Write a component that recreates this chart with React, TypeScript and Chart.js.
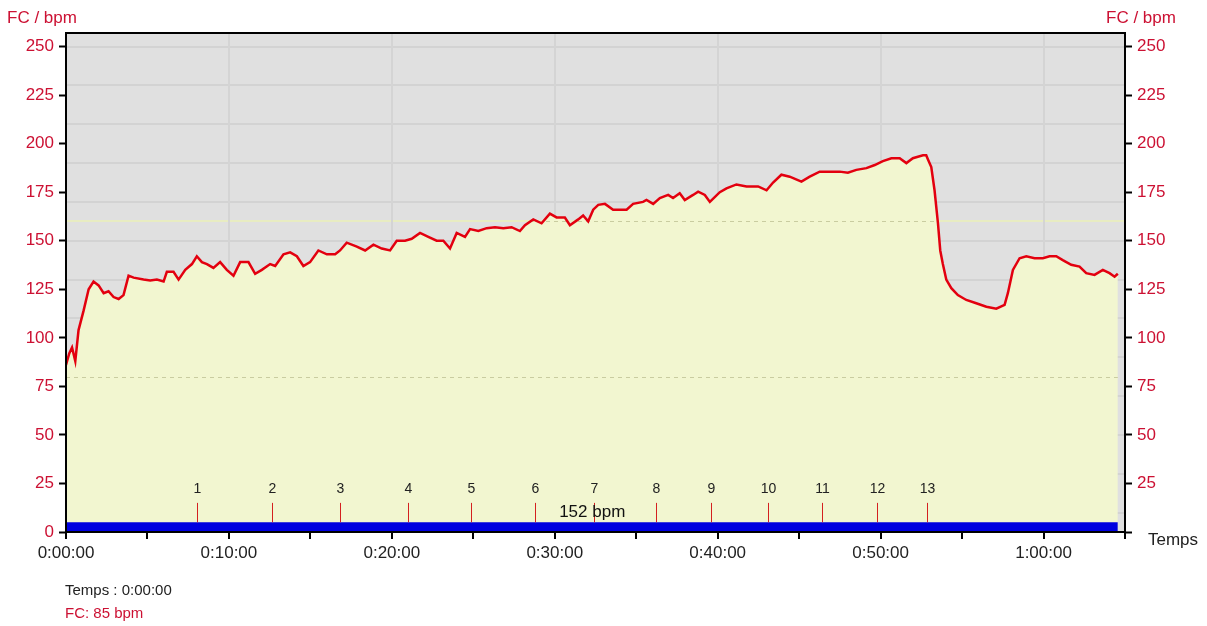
import React, { useEffect, useRef } from 'react';
import { Chart, registerables } from 'chart.js';

Chart.register(...registerables);

// ---- data (minutes, bpm) ----
const timeMin = [
  0, 0.2, 0.37, 0.57, 0.77, 1.08, 1.39, 1.69, 2.0, 2.31, 2.61, 2.92, 3.23, 3.53, 3.84, 4.15, 4.76, 5.17,
  5.58, 5.99, 6.19, 6.6, 6.91, 7.32, 7.73, 8.03, 8.34, 8.65, 9.05, 9.46, 9.87, 10.28, 10.69, 11.2, 11.61,
  12.02, 12.53, 12.84, 13.35, 13.76, 14.17, 14.57, 14.98, 15.49, 16.01, 16.52, 16.82, 17.23, 17.85, 18.36,
  18.87, 19.38, 19.89, 20.3, 20.81, 21.22, 21.73, 22.24, 22.75, 23.16, 23.57, 23.98, 24.49, 24.8, 25.31,
  25.82, 26.33, 26.84, 27.35, 27.86, 28.17, 28.68, 29.19, 29.7, 30.11, 30.62, 30.93, 31.44, 31.74, 32.05,
  32.36, 32.67, 33.08, 33.58, 34.41, 34.81, 35.42, 35.63, 36.04, 36.45, 36.96, 37.26, 37.67, 37.98, 38.49,
  38.8, 39.21, 39.52, 40.13, 40.54, 41.15, 41.77, 42.48, 43.0, 43.4, 43.91, 44.42, 45.14, 45.65, 46.26,
  46.87, 47.49, 47.99, 48.51, 49.13, 49.64, 50.14, 50.66, 51.17, 51.58, 51.98, 52.6, 52.8, 52.9, 53.11,
  53.31, 53.52, 53.66, 53.82, 54.03, 54.34, 54.74, 55.26, 55.87, 56.49, 57.1, 57.61, 57.81, 58.12, 58.53,
  58.94, 59.45, 59.96, 60.37, 60.78, 61.18, 61.7, 62.21, 62.62, 63.13, 63.64, 64.05, 64.36, 64.56,
];
const heartRate = [
  86, 92, 95, 88, 104, 114, 125, 129, 127, 123, 124, 121, 120, 122, 132, 131, 130, 129.5,
  130, 129, 134, 134, 130, 135, 138, 142, 139, 138, 136, 139, 135, 132, 139, 139, 133,
  135, 138, 137, 143, 144, 142, 137, 139, 145, 143, 143, 145, 149, 147, 145,
  148, 146, 145, 150, 150, 151, 154, 152, 150, 150, 146, 154, 152, 156, 155,
  156.5, 157, 156.5, 157, 155, 158, 161, 159, 164, 162, 162, 158, 161, 163, 160,
  166, 168.5, 169, 166, 166, 169, 170, 171, 169, 172, 173.6, 172, 174.5, 171, 173.6,
  175.3, 173.6, 170, 175, 177, 179, 178, 178, 176, 180, 184, 183, 180.5, 183, 185.6,
  185.6, 185.6, 185, 186.5, 187.4, 189, 191, 192.5, 192.5, 190, 192.5, 194, 194, 192, 188,
  176, 159, 145, 138, 130, 125.6, 122, 119.5, 117.8, 116, 115, 117, 123, 135, 141,
  142, 141, 141, 142, 142, 140, 137.6, 136.7, 133.3, 132.4, 135, 133.3, 131.5, 133,
];
const lapTimes = [8.05, 12.65, 16.82, 20.99, 24.86, 28.78, 32.4, 36.2, 39.6, 43.07, 46.38, 49.76, 52.82];
const lapNames = ['1', '2', '3', '4', '5', '6', '7', '8', '9', '10', '11', '12', '13'];
const gridLevels = [10, 30, 50, 70, 90, 110, 130, 150, 170, 190, 210, 230, 250];
const zoneLimits = [160, 80];
const bandLevel = 5;
const bandEnd = 64.56;
const avgText = '152 bpm';
const avgAt = 32.3;
const yTitle = 'FC / bpm';
const xTitle = 'Temps';
const infoTime = 'Temps : 0:00:00';
const infoHr = 'FC: 85 bpm';

const FONT = '"Liberation Sans", Arial, sans-serif';
const RED = '#cc1133';

function fmtMin(v: number): string {
  const h = Math.floor(v / 60);
  const m = Math.round(v % 60);
  return `${h}:${String(m).padStart(2, '0')}:00`;
}

const decor = {
  id: 'decor',
  beforeDraw(chart: any) {
    const { ctx, chartArea: a, scales } = chart;
    const y = scales.y;
    ctx.save();
    ctx.fillStyle = '#e0e0e0';
    ctx.fillRect(a.left, a.top, a.right - a.left, a.bottom - a.top);
    ctx.strokeStyle = '#d3d3d3';
    ctx.lineWidth = 2;
    gridLevels.forEach((v) => {
      const py = Math.round(y.getPixelForValue(v));
      ctx.beginPath();
      ctx.moveTo(a.left, py);
      ctx.lineTo(a.right, py);
      ctx.stroke();
    });
    ctx.strokeStyle = '#e8ecc2';
    ctx.lineWidth = 2;
    const pz = Math.round(y.getPixelForValue(zoneLimits[0]));
    ctx.beginPath();
    ctx.moveTo(a.left, pz);
    ctx.lineTo(a.right, pz);
    ctx.stroke();
    ctx.restore();
  },
  beforeDatasetsDraw(chart: any) {
    const { ctx, chartArea: a, scales } = chart;
    const y = scales.y;
    const pts = chart.getDatasetMeta(1).data;
    if (!pts || !pts.length) return;
    ctx.save();
    ctx.beginPath();
    ctx.moveTo(pts[0].x, a.bottom);
    pts.forEach((p: any) => ctx.lineTo(p.x, p.y));
    ctx.lineTo(pts[pts.length - 1].x, a.bottom);
    ctx.closePath();
    ctx.clip();
    ctx.setLineDash([4, 4]);
    ctx.strokeStyle = '#c9cca0';
    ctx.lineWidth = 1;
    zoneLimits.forEach((v) => {
      const py = Math.round(y.getPixelForValue(v)) + 0.5;
      ctx.beginPath();
      ctx.moveTo(a.left, py);
      ctx.lineTo(a.right, py);
      ctx.stroke();
    });
    ctx.restore();
  },
  afterDatasetsDraw(chart: any) {
    const { ctx, scales } = chart;
    const x = scales.x;
    const y = scales.y;
    ctx.save();
    ctx.font = `14px ${FONT}`;
    ctx.textAlign = 'center';
    ctx.textBaseline = 'middle';
    lapTimes.forEach((t, i) => {
      const px = Math.round(x.getPixelForValue(t)) + 0.5;
      ctx.strokeStyle = '#d42020';
      ctx.lineWidth = 1;
      ctx.beginPath();
      ctx.moveTo(px, y.getPixelForValue(15));
      ctx.lineTo(px, y.getPixelForValue(bandLevel));
      ctx.stroke();
      ctx.fillStyle = '#222';
      ctx.fillText(lapNames[i], px, y.getPixelForValue(22.2));
    });
    ctx.font = `17px ${FONT}`;
    ctx.fillStyle = '#111';
    ctx.fillText(avgText, x.getPixelForValue(avgAt), y.getPixelForValue(10.3));
    ctx.restore();
  },
  afterDraw(chart: any) {
    const { ctx, chartArea: a } = chart;
    ctx.save();
    ctx.strokeStyle = '#000';
    ctx.lineWidth = 2;
    ctx.strokeRect(a.left, a.top, a.right - a.left, a.bottom - a.top);
    ctx.textBaseline = 'middle';
    ctx.textAlign = 'left';
    ctx.font = `17px ${FONT}`;
    ctx.fillStyle = RED;
    ctx.fillText(yTitle, 7, 18);
    ctx.fillText(yTitle, 1106, 18);
    ctx.fillStyle = '#222';
    ctx.fillText(xTitle, 1148, 540);
    ctx.font = `15px ${FONT}`;
    ctx.fillStyle = '#222';
    ctx.fillText(infoTime, 65, 591);
    ctx.fillStyle = RED;
    ctx.fillText(infoHr, 65, 614);
    ctx.restore();
  },
};

export default function App() {
  const ref = useRef<HTMLCanvasElement | null>(null);
  useEffect(() => {
    if (!ref.current) return;
    const chart = new Chart(ref.current, {
      type: 'line',
      data: {
        datasets: [
          {
            label: 'band',
            data: [
              { x: 0, y: bandLevel },
              { x: bandEnd, y: bandLevel },
            ],
            borderWidth: 0,
            borderColor: 'rgba(0,0,0,0)',
            pointRadius: 0,
            fill: 'origin',
            backgroundColor: '#0000e0',
          },
          {
            label: 'FC',
            data: timeMin.map((t, i) => ({ x: t, y: heartRate[i] })),
            borderColor: '#e3000f',
            borderWidth: 2.5,
            pointRadius: 0,
            fill: 'origin',
            backgroundColor: '#f2f6d0',
            tension: 0,
          },
        ],
      },
      options: {
        responsive: false,
        animation: false,
        layout: { padding: { top: 33, left: 0, right: 0, bottom: 0 } },
        plugins: {
          legend: { display: false },
          tooltip: { enabled: false },
          filler: { drawTime: 'beforeDatasetsDraw' },
        } as any,
        scales: {
          x: {
            type: 'linear',
            min: 0,
            max: 65,
            afterFit: (s: any) => {
              s.height = 94;
            },
            border: { display: true, color: '#000', width: 2 },
            grid: {
              color: (c: any) =>
                c.tick && c.tick.value % 10 === 0 && c.tick.value !== 0 ? '#d4d4d4' : 'rgba(0,0,0,0)',
              lineWidth: 2,
              tickColor: '#000',
              tickWidth: 2,
              tickLength: 7,
            },
            ticks: {
              stepSize: 5,
              autoSkip: false,
              maxRotation: 0,
              padding: 4,
              color: '#222',
              font: { family: FONT, size: 17 },
              callback: (v: any) => (Number(v) % 10 === 0 ? fmtMin(Number(v)) : ''),
            },
          },
          y: {
            position: 'left',
            min: 0,
            max: 257,
            afterFit: (s: any) => {
              s.width = 66;
            },
            border: { display: true, color: '#000', width: 2 },
            grid: { drawOnChartArea: false, tickColor: '#000', tickWidth: 2, tickLength: 7 },
            ticks: {
              stepSize: 25,
              includeBounds: false,
              padding: 5,
              color: RED,
              font: { family: FONT, size: 17 },
            },
          },
          y2: {
            position: 'right',
            min: 0,
            max: 257,
            afterFit: (s: any) => {
              s.width = 82;
            },
            border: { display: true, color: '#000', width: 2 },
            grid: { drawOnChartArea: false, tickColor: '#000', tickWidth: 2, tickLength: 7 },
            ticks: {
              stepSize: 25,
              includeBounds: false,
              padding: 5,
              color: RED,
              font: { family: FONT, size: 17 },
              callback: (v: any) => (Number(v) === 0 ? '' : String(v)),
            },
          },
        },
      } as any,
      plugins: [decor],
    });
    return () => chart.destroy();
  }, []);
  return (
    <div style={{ position: 'absolute', left: 0, top: 0, width: 1207, height: 626, background: '#fff' }}>
      <canvas ref={ref} width={1207} height={626} style={{ display: 'block' }} />
    </div>
  );
}
